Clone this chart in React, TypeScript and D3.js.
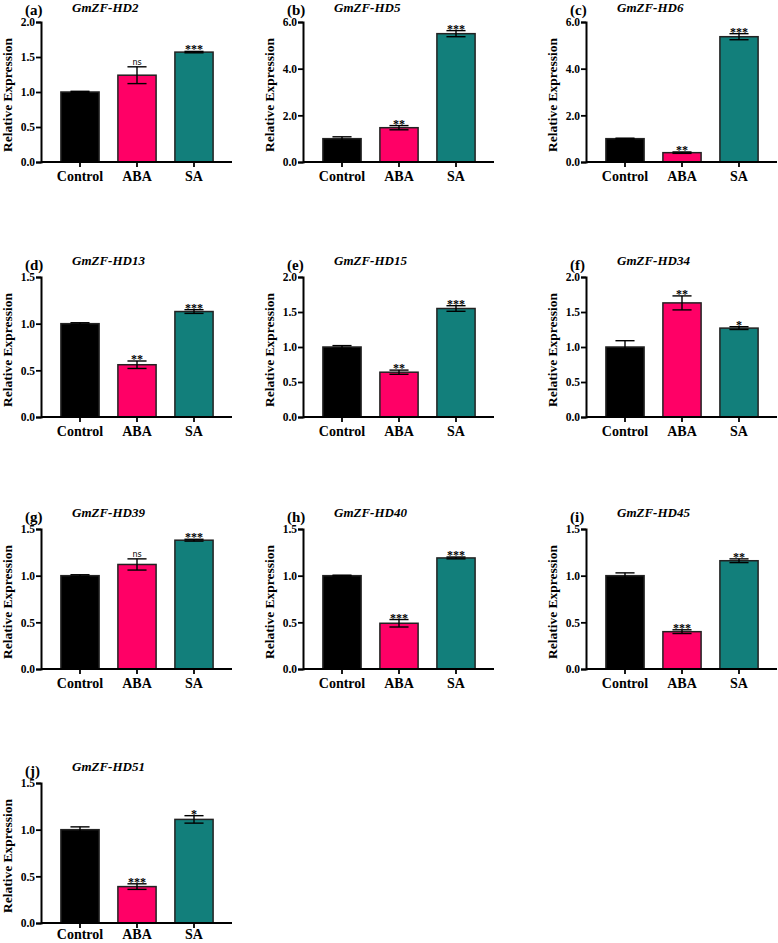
import { useEffect, useRef } from "react";
import * as d3 from "d3";

const categories = ["Control", "ABA", "SA"];
const genes = ["GmZF-HD2", "GmZF-HD5", "GmZF-HD6", "GmZF-HD13", "GmZF-HD15", "GmZF-HD34", "GmZF-HD39", "GmZF-HD40", "GmZF-HD45", "GmZF-HD51"];
const panelLabels = ["(a)", "(b)", "(c)", "(d)", "(e)", "(f)", "(g)", "(h)", "(i)", "(j)"];
const yMax = [2, 6, 6, 1.5, 2, 2, 1.5, 1.5, 1.5, 1.5];
const yTicks = [
  [0, 0.5, 1, 1.5, 2],
  [0, 2, 4, 6],
  [0, 2, 4, 6],
  [0, 0.5, 1, 1.5],
  [0, 0.5, 1, 1.5, 2],
  [0, 0.5, 1, 1.5, 2],
  [0, 0.5, 1, 1.5],
  [0, 0.5, 1, 1.5],
  [0, 0.5, 1, 1.5],
  [0, 0.5, 1, 1.5],
];
const means = [
  [1.0, 1.24, 1.57],
  [1.0, 1.47, 5.5],
  [1.0, 0.4, 5.37],
  [1.0, 0.56, 1.13],
  [1.0, 0.64, 1.55],
  [1.0, 1.63, 1.27],
  [1.0, 1.12, 1.38],
  [1.0, 0.49, 1.19],
  [1.0, 0.4, 1.16],
  [1.0, 0.39, 1.11],
];
const errors = [
  [0.01, 0.12, 0.01],
  [0.08, 0.09, 0.13],
  [0.02, 0.03, 0.13],
  [0.01, 0.04, 0.02],
  [0.02, 0.03, 0.04],
  [0.09, 0.1, 0.02],
  [0.01, 0.06, 0.01],
  [0.005, 0.04, 0.01],
  [0.03, 0.02, 0.02],
  [0.03, 0.03, 0.04],
];
const signif = [
  ["", "ns", "***"],
  ["", "**", "***"],
  ["", "**", "***"],
  ["", "**", "***"],
  ["", "**", "***"],
  ["", "**", "*"],
  ["", "ns", "***"],
  ["", "***", "***"],
  ["", "***", "**"],
  ["", "***", "*"],
];

const colors = ["#000000", "#FF0066", "#127F7B"];
const FONT = "'Liberation Serif', 'Times New Roman', 'DejaVu Serif', serif";
const colX = [41, 303, 586];
const rowTop = [22, 277, 529, 783];
const PLOT_H = 140;
const AXIS_W = 191;

const App = () => {
  const ref = useRef<SVGSVGElement>(null);

  useEffect(() => {
    const svg = d3.select(ref.current);
    svg.selectAll("*").remove();

    genes.forEach((gene, i) => {
      const row = Math.floor(i / 3);
      const x0 = colX[i % 3];
      const y0 = rowTop[row];
      const g = svg.append("g").attr("transform", `translate(${x0},${y0})`);

      const x = d3.scaleBand().domain(categories).range([10.5, 181.5]).paddingInner(0.33).paddingOuter(0.165);
      const y = d3.scaleLinear().domain([0, yMax[i]]).range([PLOT_H, 0]);

      // bars
      g.selectAll("rect.bar")
        .data(categories)
        .join("rect")
        .attr("class", "bar")
        .attr("x", (c) => x(c)!)
        .attr("y", (_, j) => y(means[i][j]))
        .attr("width", x.bandwidth())
        .attr("height", (_, j) => PLOT_H - y(means[i][j]))
        .attr("fill", (_, j) => colors[j])
        .attr("stroke", "#222")
        .attr("stroke-width", 1.5);

      // error bars + significance marks
      const cap = x.bandwidth() / 4;
      categories.forEach((c, j) => {
        const cx = x(c)! + x.bandwidth() / 2;
        const hi = y(means[i][j] + errors[i][j]);
        const lo = y(means[i][j] - errors[i][j]);
        g.append("line").attr("x1", cx).attr("x2", cx).attr("y1", hi).attr("y2", lo).attr("stroke", "#000").attr("stroke-width", 1.4);
        g.append("line").attr("x1", cx - cap).attr("x2", cx + cap).attr("y1", hi).attr("y2", hi).attr("stroke", "#000").attr("stroke-width", 1.4);
        g.append("line").attr("x1", cx - cap).attr("x2", cx + cap).attr("y1", lo).attr("y2", lo).attr("stroke", "#000").attr("stroke-width", 1.4);
        const s = signif[i][j];
        if (s) {
          const ns = s === "ns";
          g.append("text")
            .attr("x", cx)
            .attr("y", hi + (ns ? -2 : 2))
            .attr("text-anchor", "middle")
            .attr("fill", "#000")
            .attr("font-family", ns ? "'DejaVu Sans', sans-serif" : FONT)
            .attr("font-weight", ns ? "normal" : "bold")
            .attr("font-size", ns ? 8 : 12)
            .text(s);
        }
      });

      // y axis
      const ya = g.append("g").call(
        d3.axisLeft(y).tickValues(yTicks[i]).tickFormat(d3.format(".1f")).tickSizeOuter(0).tickSize(5)
      );
      ya.select(".domain").attr("stroke-width", 2);
      ya.selectAll(".tick line").attr("stroke-width", 1.8);
      ya.selectAll(".tick text")
        .attr("font-family", FONT)
        .attr("font-weight", "bold")
        .attr("font-size", 11.5)
        .attr("x", -6);

      // x axis
      const xa = g.append("g").attr("transform", `translate(0,${PLOT_H})`).call(
        d3.axisBottom(x).tickSizeOuter(0).tickSize(5)
      );
      xa.select(".domain").attr("d", `M0,0H${AXIS_W}`).attr("stroke-width", 2);
      xa.selectAll(".tick line").attr("stroke-width", 1.8);
      xa.selectAll(".tick text")
        .attr("font-family", FONT)
        .attr("font-weight", "bold")
        .attr("font-size", 14)
        .attr("y", row === 3 ? 6 : 9);

      // y label
      g.append("text")
        .attr("transform", `translate(-29,${PLOT_H / 2 + 3}) rotate(-90)`)
        .attr("text-anchor", "middle")
        .attr("font-family", FONT)
        .attr("font-weight", "bold")
        .attr("font-size", 13.5)
        .text("Relative Expression");

      // panel label and title
      g.append("text")
        .attr("x", -16)
        .attr("y", -7)
        .attr("font-family", FONT)
        .attr("font-weight", "bold")
        .attr("font-size", 15)
        .text(panelLabels[i]);
      g.append("text")
        .attr("x", 31)
        .attr("y", row === 0 ? -10 : -12)
        .attr("font-family", FONT)
        .attr("font-weight", "bold")
        .attr("font-style", "italic")
        .attr("font-size", 13)
        .text(gene);
    });
  }, []);

  return (
    <svg
      ref={ref}
      width={778}
      height={943}
      style={{ position: "absolute", left: 0, top: 0, background: "#fff" }}
    />
  );
};

export default App;
